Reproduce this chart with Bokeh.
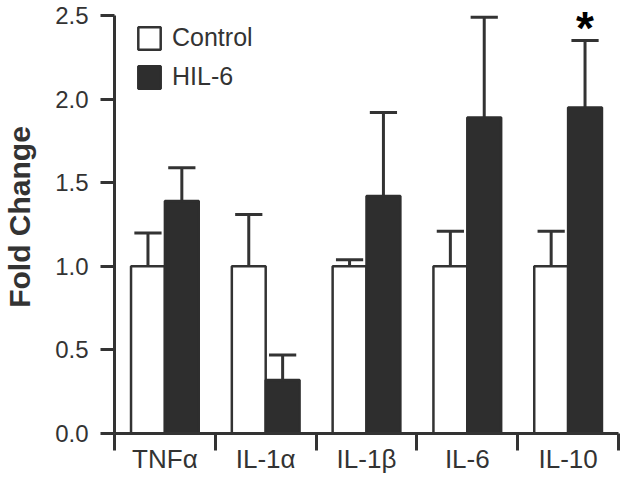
from bokeh.plotting import figure
from bokeh.models import FixedTicker, Range1d, Legend, LegendItem, ColumnDataSource, PrintfTickFormatter
from bokeh.core.properties import value
from bokeh.embed import file_html
from bokeh.resources import INLINE

# ---- data ----
categories = ["TNFα", "IL-1α", "IL-1β", "IL-6", "IL-10"]
control_mean = [1.0, 1.0, 1.0, 1.0, 1.0]
control_upper = [1.20, 1.31, 1.04, 1.21, 1.21]
hil6_mean = [1.39, 0.32, 1.42, 1.89, 1.95]
hil6_upper = [1.59, 0.47, 1.92, 2.49, 2.35]
significant = [False, False, False, False, True]
y_ticks = [0.0, 0.5, 1.0, 1.5, 2.0, 2.5]
series_labels = ["Control", "HIL-6"]

# ---- layout helpers ----
FONT = "Liberation Sans"
DARK = "#2e2e2e"
AXIS = "#333333"
bar_w = 0.336
cap_w = 0.27
n = len(categories)
centers = [i + 0.5 for i in range(n)]
x_ctrl = [c - bar_w / 2 for c in centers]
x_hil = [c + bar_w / 2 for c in centers]

src_ctrl = ColumnDataSource(dict(x=x_ctrl, top=control_mean, up=control_upper,
                                 cl=[x - cap_w / 2 for x in x_ctrl], cr=[x + cap_w / 2 for x in x_ctrl]))
src_hil = ColumnDataSource(dict(x=x_hil, top=hil6_mean, up=hil6_upper,
                                cl=[x - cap_w / 2 for x in x_hil], cr=[x + cap_w / 2 for x in x_hil]))

p = figure(width=620, height=481, x_range=Range1d(0, n), y_range=Range1d(0, 2.59),
           output_backend="svg", toolbar_location=None,
           min_border_left=112, min_border_right=2, min_border_top=0, min_border_bottom=48)
p.outline_line_color = None
p.xgrid.visible = False
p.ygrid.visible = False
p.background_fill_color = "white"

# error bars (upper only)
for src in (src_ctrl, src_hil):
    p.segment(x0="x", y0="top", x1="x", y1="up", source=src, line_color=AXIS, line_width=3)
    p.segment(x0="cl", y0="up", x1="cr", y1="up", source=src, line_color=AXIS, line_width=3)

r_ctrl = p.vbar(x="x", top="top", bottom=0, width=bar_w, source=src_ctrl,
                fill_color="white", line_color=AXIS, line_width=2.5)
r_hil = p.vbar(x="x", top="top", bottom=0, width=bar_w, source=src_hil,
               fill_color=DARK, line_color=DARK, line_width=2.5)

# significance marker
sig_x = [x for x, s in zip(x_hil, significant) if s]
sig_y = [u for u, s in zip(hil6_upper, significant) if s]
p.text(x=sig_x, y=sig_y, text=["*"] * len(sig_x), text_font=value(FONT), text_font_style="bold",
       text_font_size=value("46px"), text_align="center", text_baseline="alphabetic", y_offset=-13,
       text_color="black")

legend = Legend(items=[LegendItem(label=series_labels[0], renderers=[r_ctrl]),
                       LegendItem(label=series_labels[1], renderers=[r_hil])],
                location=(21, 342), orientation="vertical",
                glyph_width=28, glyph_height=28, label_height=28, spacing=10,
                label_standoff=9, padding=0, margin=0,
                border_line_color=None, background_fill_alpha=0,
                label_text_font=FONT, label_text_font_size="25px", label_text_color=AXIS)
p.add_layout(legend)

# y axis
ya = p.yaxis[0]
ya.ticker = FixedTicker(ticks=y_ticks)
ya.formatter = PrintfTickFormatter(format="%.1f")
ya.bounds = (0, 2.5)
ya.axis_line_width = 3
ya.axis_line_color = AXIS
ya.major_tick_line_width = 3
ya.major_tick_line_color = AXIS
ya.major_tick_in = 0
ya.major_tick_out = 14
ya.minor_tick_line_color = None
ya.major_label_standoff = 12
ya.major_label_text_font = FONT
ya.major_label_text_font_size = "24px"
ya.major_label_text_color = AXIS
ya.axis_label = "Fold Change"
ya.axis_label_text_font = FONT
ya.axis_label_text_font_style = "bold"
ya.axis_label_text_font_size = "30px"
ya.axis_label_text_color = AXIS
ya.axis_label_standoff = 16

# x axis: labels at group centres, separator ticks between groups
xa = p.xaxis[0]
xa.ticker = FixedTicker(ticks=centers, minor_ticks=list(range(n + 1)))
xa.major_label_overrides = {c: lab for c, lab in zip(centers, categories)}
xa.axis_line_width = 3
xa.axis_line_color = AXIS
xa.major_tick_line_color = None
xa.major_tick_in = 0
xa.major_tick_out = 12
xa.minor_tick_line_color = AXIS
xa.minor_tick_line_width = 3
xa.minor_tick_in = 0
xa.minor_tick_out = 17
xa.major_label_standoff = -7
xa.major_label_text_font = FONT
xa.major_label_text_font_size = "26px"
xa.major_label_text_color = AXIS

open("out.html", "w").write(file_html(p, INLINE))
